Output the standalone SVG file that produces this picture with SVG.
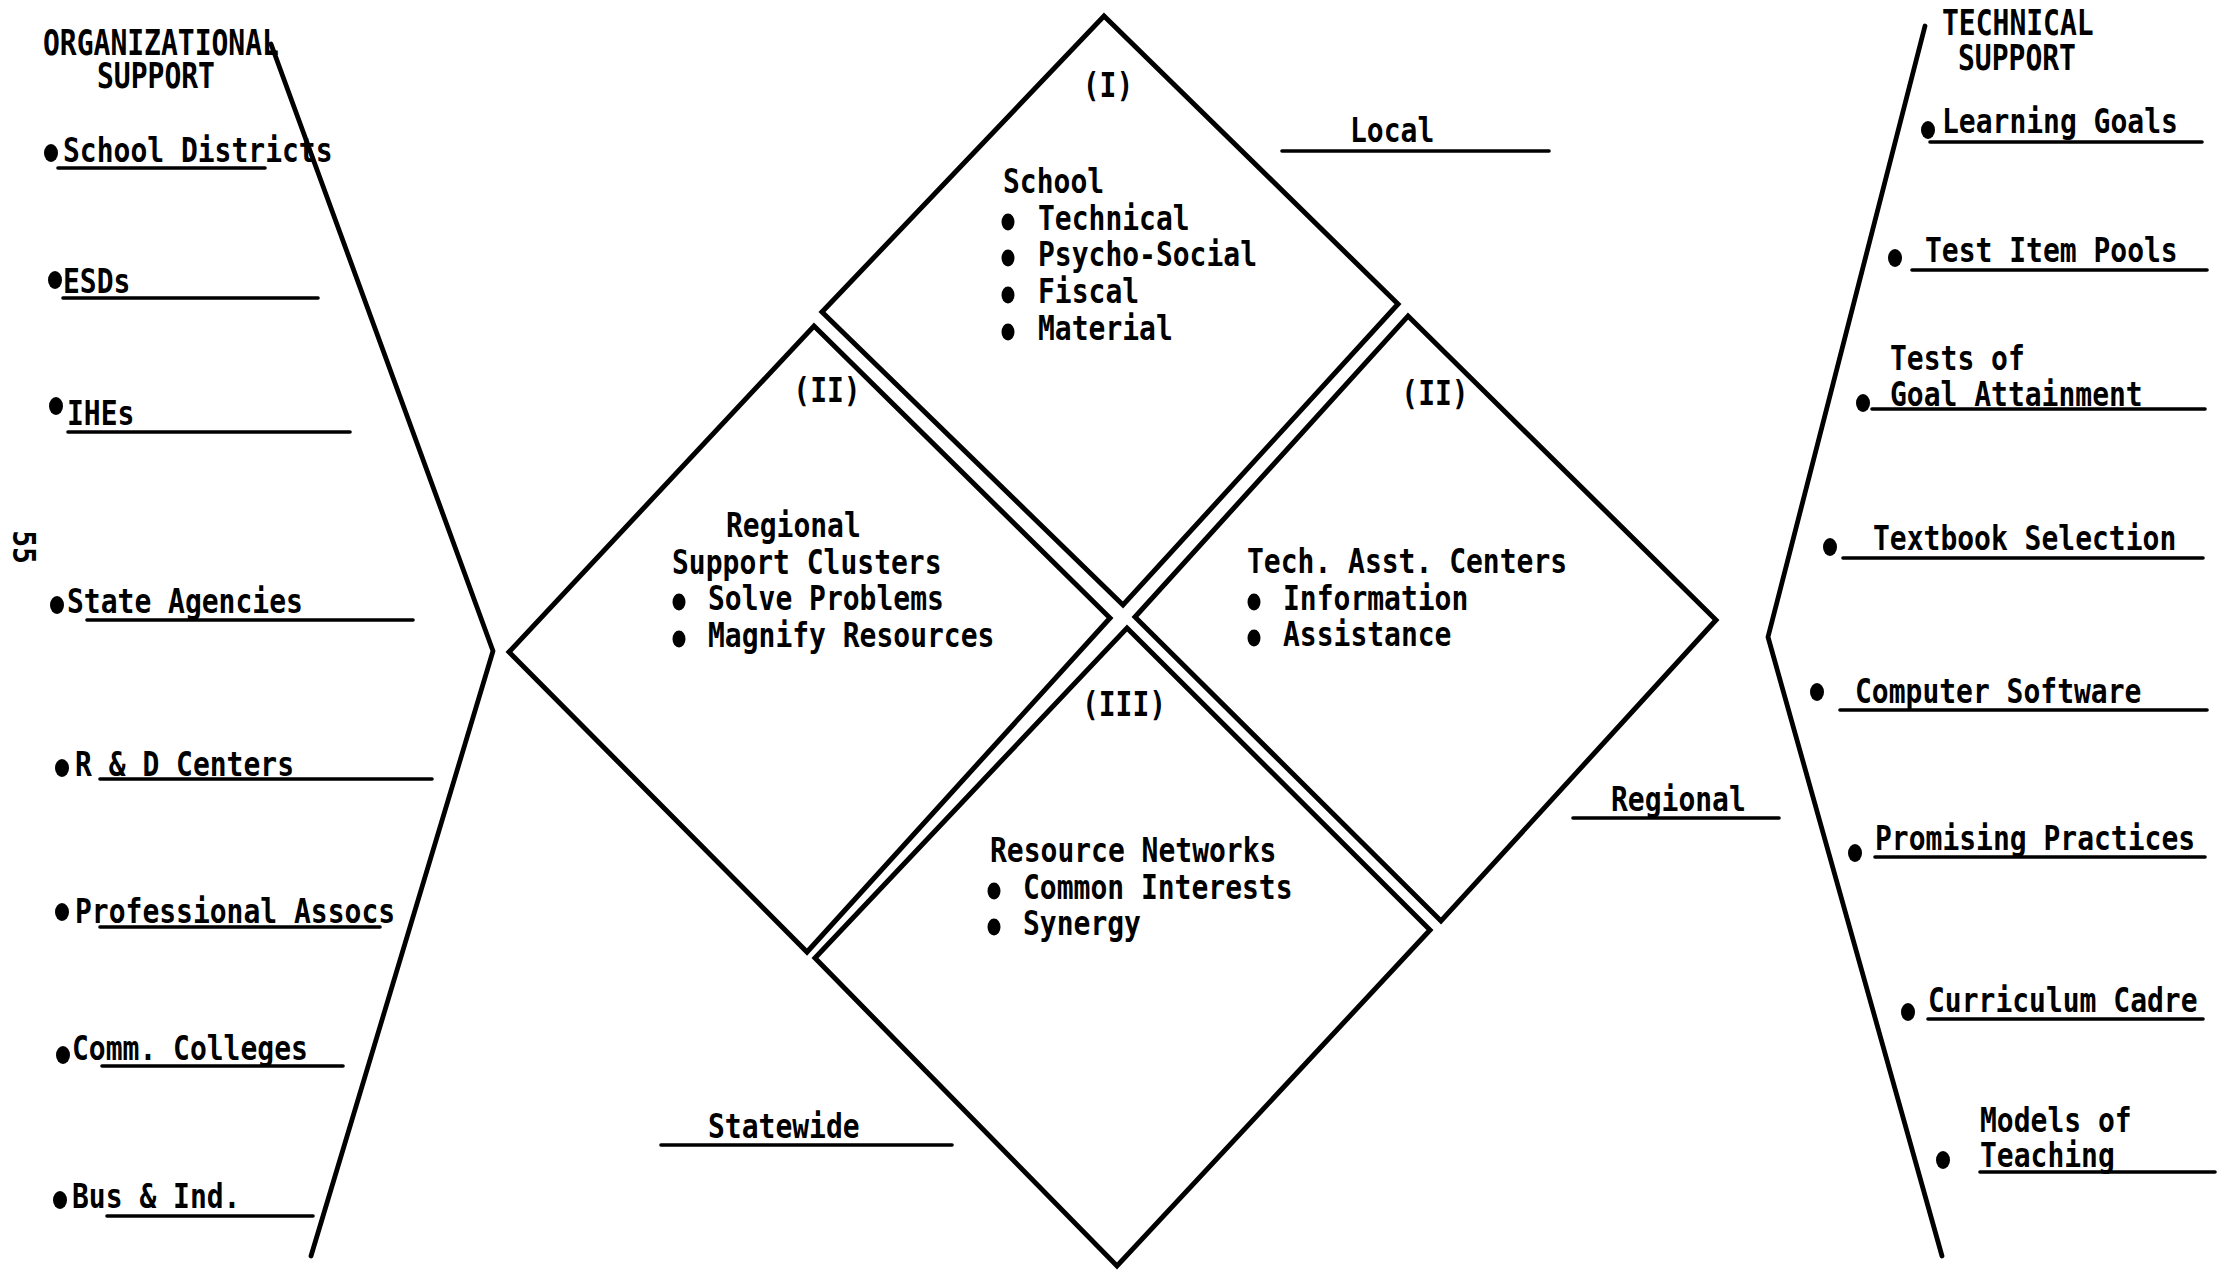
<svg xmlns="http://www.w3.org/2000/svg" width="2230" height="1272" viewBox="0 0 2230 1272">
<style>
.t{font-family:"DejaVu Sans Mono","Liberation Mono",monospace;font-size:28px;font-weight:bold;fill:#000}
.m{text-anchor:middle}
.ln{fill:none;stroke:#000;stroke-width:4.8;stroke-linecap:round;stroke-linejoin:round}
.ul{fill:none;stroke:#000;stroke-width:3.6;stroke-linecap:round}
.dia{fill:none;stroke:#000;stroke-width:5;stroke-linejoin:miter}
.b{fill:#000}
</style>
<rect x="0" y="0" width="2230" height="1272" fill="#fff"/>

<g id="connectors">
  <polyline class="ln" points="271,44 493,651 311,1256"/>
  <polyline class="ln" points="1925,26 1768,637 1942,1256"/>
</g>

<g id="org-header">
  <text class="t" transform="matrix(1 0 0 1.28 43 55)">ORGANIZATIONAL</text>
  <text class="t" transform="matrix(1 0 0 1.28 97 88)">SUPPORT</text>
</g>
<g id="org-school-districts">
  <ellipse class="b" cx="51" cy="153" rx="7" ry="9"/>
  <text class="t" transform="matrix(1 0 0 1.2 63 162)">School Districts</text>
  <line class="ul" x1="58" y1="168" x2="265" y2="168"/>
</g>
<g id="org-esds">
  <ellipse class="b" cx="55" cy="280" rx="7" ry="9"/>
  <text class="t" transform="matrix(1 0 0 1.2 63 293)">ESDs</text>
  <line class="ul" x1="63" y1="298" x2="318" y2="298"/>
</g>
<g id="org-ihes">
  <ellipse class="b" cx="56" cy="406" rx="7" ry="9"/>
  <text class="t" transform="matrix(1 0 0 1.2 67 425)">IHEs</text>
  <line class="ul" x1="68" y1="432" x2="350" y2="432"/>
</g>
<g id="page-number">
  <text class="t m" transform="translate(25,547) rotate(90) scale(1,1.15)" y="10">55</text>
</g>
<g id="org-state-agencies">
  <ellipse class="b" cx="57" cy="605" rx="7" ry="9"/>
  <text class="t" transform="matrix(1 0 0 1.2 67 613)">State Agencies</text>
  <line class="ul" x1="87" y1="620" x2="413" y2="620"/>
</g>
<g id="org-rd-centers">
  <ellipse class="b" cx="62" cy="768" rx="7" ry="9"/>
  <text class="t" transform="matrix(1 0 0 1.2 75 776)">R &amp; D Centers</text>
  <line class="ul" x1="100" y1="779" x2="432" y2="779"/>
</g>
<g id="org-professional">
  <ellipse class="b" cx="62" cy="912" rx="7" ry="9"/>
  <text class="t" transform="matrix(1 0 0 1.2 75 923)">Professional Assocs</text>
  <line class="ul" x1="100" y1="927" x2="380" y2="927"/>
</g>
<g id="org-comm-colleges">
  <ellipse class="b" cx="63" cy="1055" rx="7" ry="9"/>
  <text class="t" transform="matrix(1 0 0 1.2 72 1060)">Comm. Colleges</text>
  <line class="ul" x1="102" y1="1066" x2="343" y2="1066"/>
</g>
<g id="org-bus-ind">
  <ellipse class="b" cx="60" cy="1200" rx="7" ry="9"/>
  <text class="t" transform="matrix(1 0 0 1.2 72 1208)">Bus &amp; Ind.</text>
  <line class="ul" x1="107" y1="1216" x2="313" y2="1216"/>
</g>

<g id="tech-header">
  <text class="t" transform="matrix(1 0 0 1.28 1942 35)">TECHNICAL</text>
  <text class="t" transform="matrix(1 0 0 1.28 1958 70)">SUPPORT</text>
</g>
<g id="tech-learning-goals">
  <ellipse class="b" cx="1928" cy="130" rx="7" ry="9"/>
  <text class="t" transform="matrix(1 0 0 1.2 1942 133)">Learning Goals</text>
  <line class="ul" x1="1930" y1="142" x2="2202" y2="142"/>
</g>
<g id="tech-test-item-pools">
  <ellipse class="b" cx="1895" cy="258" rx="7" ry="9"/>
  <text class="t" transform="matrix(1 0 0 1.2 1925 262)">Test Item Pools</text>
  <line class="ul" x1="1912" y1="270" x2="2207" y2="270"/>
</g>
<g id="tech-tests-goal">
  <ellipse class="b" cx="1863" cy="403" rx="7" ry="9"/>
  <text class="t" transform="matrix(1 0 0 1.2 1890 370)">Tests of</text>
  <text class="t" transform="matrix(1 0 0 1.2 1890 406)">Goal Attainment</text>
  <line class="ul" x1="1872" y1="409" x2="2205" y2="409"/>
</g>
<g id="tech-textbook">
  <ellipse class="b" cx="1830" cy="547" rx="7" ry="9"/>
  <text class="t" transform="matrix(1 0 0 1.2 1873 550)">Textbook Selection</text>
  <line class="ul" x1="1843" y1="558" x2="2203" y2="558"/>
</g>
<g id="tech-software">
  <ellipse class="b" cx="1817" cy="692" rx="7" ry="9"/>
  <text class="t" transform="matrix(1 0 0 1.2 1855 703)">Computer Software</text>
  <line class="ul" x1="1840" y1="710" x2="2207" y2="710"/>
</g>
<g id="tech-promising">
  <ellipse class="b" cx="1855" cy="853" rx="7" ry="9"/>
  <text class="t" transform="matrix(1 0 0 1.2 1875 850)">Promising Practices</text>
  <line class="ul" x1="1875" y1="857" x2="2205" y2="857"/>
</g>
<g id="tech-cadre">
  <ellipse class="b" cx="1908" cy="1012" rx="7" ry="9"/>
  <text class="t" transform="matrix(1 0 0 1.2 1928 1012)">Curriculum Cadre</text>
  <line class="ul" x1="1928" y1="1019" x2="2203" y2="1019"/>
</g>
<g id="tech-models">
  <ellipse class="b" cx="1943" cy="1160" rx="7" ry="9"/>
  <text class="t" transform="matrix(1 0 0 1.2 1980 1132)">Models of</text>
  <text class="t" transform="matrix(1 0 0 1.2 1980 1167)">Teaching</text>
  <line class="ul" x1="1980" y1="1172" x2="2215" y2="1172"/>
</g>

<g id="diamond-school">
  <polygon class="dia" points="1104,16 1398,304 1123,605 822,312"/>
  <text class="t m" transform="matrix(1 0 0 1.2 1108 97)">(I)</text>
  <text class="t" transform="matrix(1 0 0 1.2 1003 193)">School</text>
  <ellipse class="b" cx="1008" cy="222" rx="6.5" ry="8.5"/>
  <text class="t" transform="matrix(1 0 0 1.2 1038 230)">Technical</text>
  <ellipse class="b" cx="1008" cy="258" rx="6.5" ry="8.5"/>
  <text class="t" transform="matrix(1 0 0 1.2 1038 266)">Psycho-Social</text>
  <ellipse class="b" cx="1008" cy="295" rx="6.5" ry="8.5"/>
  <text class="t" transform="matrix(1 0 0 1.2 1038 303)">Fiscal</text>
  <ellipse class="b" cx="1008" cy="332" rx="6.5" ry="8.5"/>
  <text class="t" transform="matrix(1 0 0 1.2 1038 340)">Material</text>
</g>

<g id="diamond-regional-clusters">
  <polygon class="dia" points="814,326 1110,618 807,952 509,652"/>
  <text class="t m" transform="matrix(1 0 0 1.2 827 402)">(II)</text>
  <text class="t" transform="matrix(1 0 0 1.2 726 537)">Regional</text>
  <text class="t" transform="matrix(1 0 0 1.2 672 574)">Support Clusters</text>
  <ellipse class="b" cx="679" cy="602" rx="6.5" ry="8.5"/>
  <text class="t" transform="matrix(1 0 0 1.2 708 610)">Solve Problems</text>
  <ellipse class="b" cx="679" cy="639" rx="6.5" ry="8.5"/>
  <text class="t" transform="matrix(1 0 0 1.2 708 647)">Magnify Resources</text>
</g>

<g id="diamond-tech-centers">
  <polygon class="dia" points="1408,316 1716,620 1441,921 1135,617"/>
  <text class="t m" transform="matrix(1 0 0 1.2 1435 405)">(II)</text>
  <text class="t" transform="matrix(1 0 0 1.2 1247 573)">Tech. Asst. Centers</text>
  <ellipse class="b" cx="1254" cy="602" rx="6.5" ry="8.5"/>
  <text class="t" transform="matrix(1 0 0 1.2 1283 610)">Information</text>
  <ellipse class="b" cx="1254" cy="638" rx="6.5" ry="8.5"/>
  <text class="t" transform="matrix(1 0 0 1.2 1283 646)">Assistance</text>
</g>

<g id="diamond-resource-networks">
  <polygon class="dia" points="1127,628 1430,930 1117,1266 815,958"/>
  <text class="t m" transform="matrix(1 0 0 1.2 1124 716)">(III)</text>
  <text class="t" transform="matrix(1 0 0 1.2 990 862)">Resource Networks</text>
  <ellipse class="b" cx="994" cy="891" rx="6.5" ry="8.5"/>
  <text class="t" transform="matrix(1 0 0 1.2 1023 899)">Common Interests</text>
  <ellipse class="b" cx="994" cy="927" rx="6.5" ry="8.5"/>
  <text class="t" transform="matrix(1 0 0 1.2 1023 935)">Synergy</text>
</g>

<g id="level-local">
  <text class="t" transform="matrix(1 0 0 1.2 1350 142)">Local</text>
  <line class="ul" x1="1282" y1="151" x2="1549" y2="151"/>
</g>
<g id="level-regional">
  <text class="t" transform="matrix(1 0 0 1.2 1611 811)">Regional</text>
  <line class="ul" x1="1573" y1="818" x2="1779" y2="818"/>
</g>
<g id="level-statewide">
  <text class="t" transform="matrix(1 0 0 1.2 708 1138)">Statewide</text>
  <line class="ul" x1="661" y1="1145" x2="952" y2="1145"/>
</g>
</svg>
